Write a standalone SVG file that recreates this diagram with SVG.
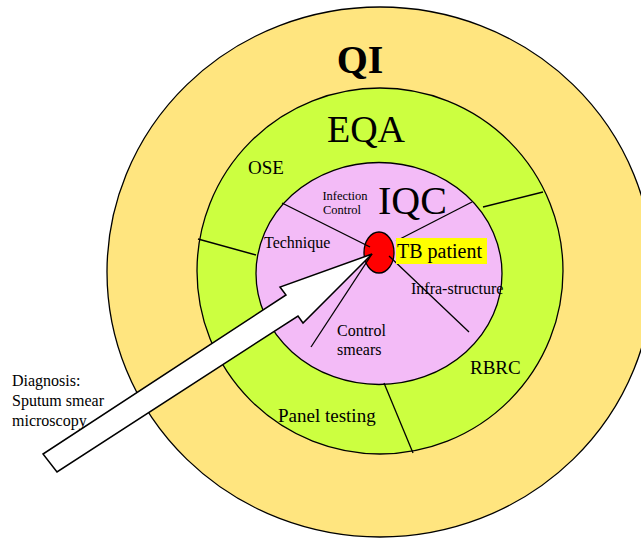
<svg xmlns="http://www.w3.org/2000/svg" width="641" height="538" viewBox="0 0 641 538">
<style>
.ring{stroke:#000;stroke-width:1.3}
.div{stroke:#000;stroke-width:1.3;fill:none}
text{font-family:"Liberation Serif","Times New Roman",serif;fill:#000}
</style>
<rect width="641" height="538" fill="#fff"/>
<g id="qi">
<ellipse class="ring" cx="380" cy="272" rx="273" ry="265" fill="#FFE57F"/>
<text x="360" y="73" font-size="40" font-weight="bold" text-anchor="middle">QI</text>
</g>
<g id="eqa">
<ellipse class="ring" cx="380" cy="271" rx="183" ry="183" fill="#CCFF40"/>
<text x="366" y="142" font-size="38" text-anchor="middle">EQA</text>
</g>
<g id="ose"><text x="248" y="174" font-size="19">OSE</text></g>
<g id="rbrc"><text x="470" y="374" font-size="19">RBRC</text></g>
<g id="panel"><text x="278" y="422" font-size="19">Panel testing</text></g>
<g id="iqc">
<ellipse class="ring" cx="379" cy="273.5" rx="123" ry="111" fill="#F3BBF7"/>
<text x="378" y="214" font-size="40">IQC</text>
</g>
<g id="infection"><text x="345" y="200" font-size="12.5" text-anchor="middle">Infection</text><text x="342" y="214" font-size="12.5" text-anchor="middle">Control</text></g>
<g id="technique"><text x="264" y="248" font-size="16">Technique</text></g>
<g id="infra"><text x="411" y="294" font-size="16">Infra-structure</text></g>
<g id="controlsmears"><text x="337" y="336" font-size="16">Control</text><text x="337" y="355" font-size="16">smears</text></g>
<g id="patient">
<ellipse class="ring" cx="379" cy="252.5" rx="15" ry="20.5" fill="#FF0000"/>
</g>
<g id="connectors">
<line class="div" x1="282" y1="203" x2="370" y2="247"/>
<line class="div" x1="472" y1="202" x2="396" y2="241"/>
<line class="div" x1="389" y1="256" x2="469" y2="332"/>
<line class="div" x1="311" y1="347" x2="372" y2="254"/>
<line class="div" x1="198" y1="239" x2="256" y2="255"/>
<line class="div" x1="483" y1="207" x2="543" y2="192"/>
<line class="div" x1="384" y1="383" x2="413" y2="453"/>
</g>
<g id="tblabel">
<rect x="396" y="238" width="91" height="26" fill="#FFFF00"/>
<text x="397" y="258" font-size="20">TB patient</text>
</g>
<g id="diagnosis">
<text x="12" y="386" font-size="16">Diagnosis:</text>
<text x="12" y="406" font-size="16">Sputum smear</text>
<text x="12" y="426" font-size="16">microscopy</text>
</g>
<g id="arrow">
<polygon points="372,254 280,287 286,295 43,454 57,472 298,316 303,323" fill="#fff" stroke="#000" stroke-width="1.5" stroke-linejoin="miter"/>
</g>
</svg>
